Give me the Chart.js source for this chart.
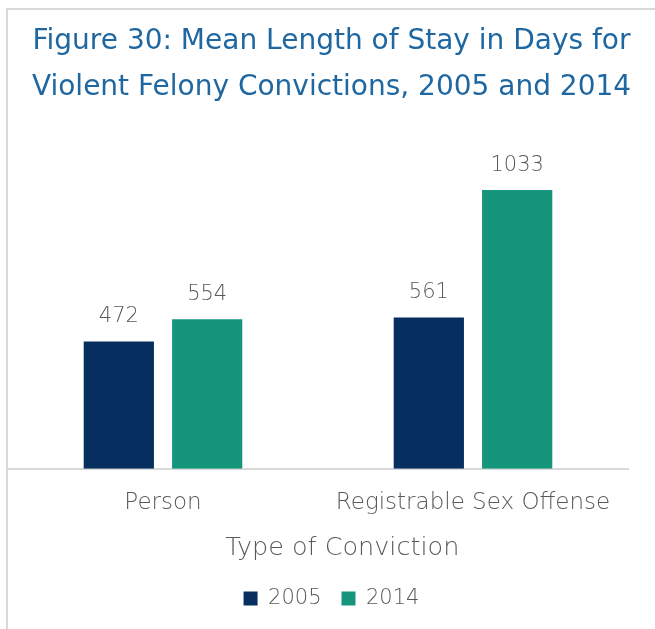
<!DOCTYPE html>
<html>
<head>
<meta charset="utf-8">
<script src="https://cdn.jsdelivr.net/npm/chart.js@4.4.1/dist/chart.umd.min.js"></script>
<style>
  body { margin: 0; background: #fff; }
  #frame { position: absolute; left: 6px; top: 8px; width: 660px; height: 640px;
           border-top: 2px solid #d9d9d9; border-left: 2px solid #d9d9d9; }
  #wrap { position: absolute; left: 0; top: 0; width: 655px; height: 629px; }
</style>
</head>
<body>
<div id="frame"></div>
<div id="wrap"><canvas id="chart"></canvas></div>
<script>
// data
const categories = ['Person', 'Registrable Sex Offense'];
const years = ['2005', '2014'];
const values2005 = [472, 561];
const values2014 = [554, 1033];

const textGray = '#595959';
const fontFamily = '"DejaVu Sans", sans-serif';

// value labels above each bar
const barLabels = {
    id: 'barLabels',
    afterDatasetsDraw(chart) {
        const ctx = chart.ctx;
        ctx.save();
        ctx.font = '300 21px ' + fontFamily;
        ctx.fillStyle = textGray;
        ctx.textAlign = 'center';
        ctx.textBaseline = 'middle';
        chart.data.datasets.forEach((ds, i) => {
            chart.getDatasetMeta(i).data.forEach((bar, j) => {
                ctx.fillText(ds.data[j], bar.x, bar.y - 25);
            });
        });
        ctx.restore();
    }
};

const ctx = document.getElementById('chart').getContext('2d');
const chart = new Chart(ctx, {
    type: 'bar',
    data: {
        labels: categories,
        datasets: [{
            label: years[0],
            data: values2005,
            backgroundColor: '#062e5f'
        }, {
            label: years[1],
            data: values2014,
            backgroundColor: '#15967c'
        }]
    },
    options: {
        responsive: true,
        maintainAspectRatio: false,
        animation: false,
        categoryPercentage: 0.57,
        barPercentage: 0.795,
        layout: { padding: { left: 8, right: 0, top: 0, bottom: 10 } },
        plugins: {
            title: {
                display: true,
                text: ['Figure 30: Mean Length of Stay in Days for', 'Violent Felony Convictions, 2005 and 2014'],
                color: '#1f67a0',
                font: { family: fontFamily, size: 28, weight: 'normal', lineHeight: 1.643 },
                padding: { top: 19, bottom: 34 }
            },
            legend: {
                position: 'bottom',
                labels: {
                    color: textGray,
                    font: { family: fontFamily, size: 21, weight: '300' },
                    boxWidth: 14,
                    boxHeight: 14,
                    padding: 20
                }
            },
            tooltip: { enabled: false }
        },
        scales: {
            x: {
                grid: { display: false, drawTicks: false },
                border: { color: '#d9d9d9', width: 2 },
                ticks: { color: textGray, font: { family: fontFamily, size: 23, weight: '300' }, padding: 20 },
                title: {
                    display: true,
                    text: '      Type of Conviction',
                    color: textGray,
                    font: { family: fontFamily, size: 25.5, weight: '300' },
                    padding: { top: -3, bottom: 4 }
                }
            },
            y: {
                position: 'right',
                min: 0,
                max: 1200,
                grid: { display: false },
                border: { display: false },
                ticks: { display: false },
                afterFit: (scale) => { scale.width = 27; }
            }
        }
    },
    plugins: [barLabels]
});
</script>
</body>
</html>
